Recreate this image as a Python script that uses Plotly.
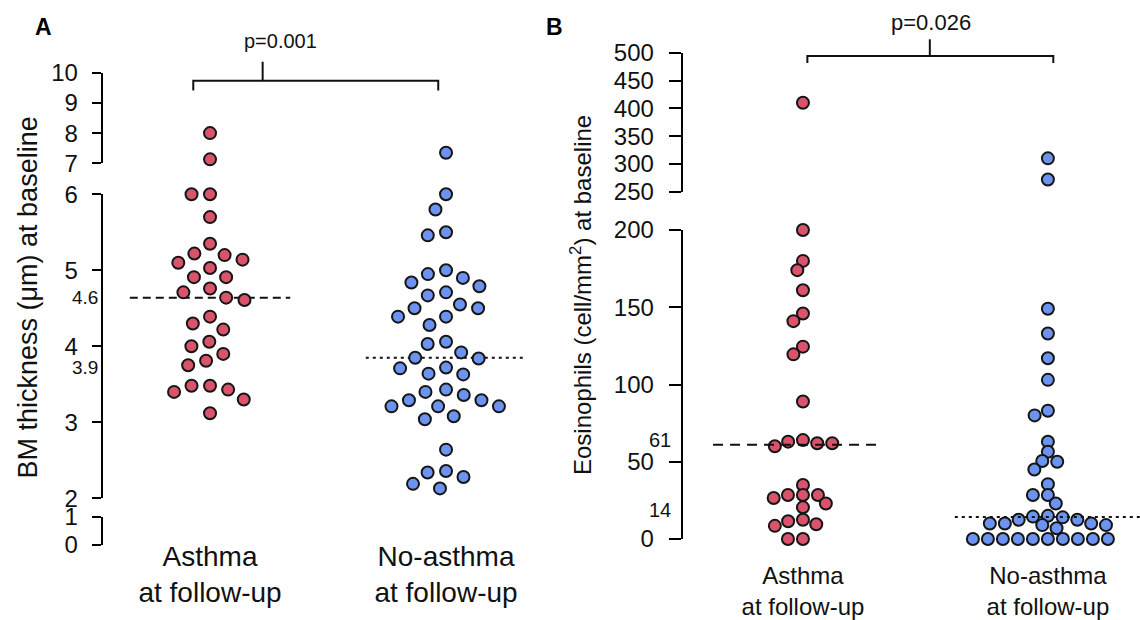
import numpy as np
import plotly.graph_objects as go

W, H = 1140, 620

# ---------------- data ----------------
group_labels = ["Asthma<br>at follow-up", "No-asthma<br>at follow-up"]

bm_asthma = [8.0, 7.13, 6.0, 6.0, 5.7, 5.35, 5.2, 5.22, 5.14, 5.1, 5.03, 4.91, 4.91,
             4.76, 4.71, 4.61, 4.64, 4.39, 4.3, 4.22, 4.06, 4.0, 3.9, 3.81, 3.75,
             3.48, 3.43, 3.4, 3.48, 3.3, 3.12]
bm_no_asthma = [7.35, 6.0, 5.8, 5.46, 5.5, 5.0, 4.9, 4.95, 4.79, 4.84, 4.71, 4.67,
                4.55, 4.5, 4.5, 4.39, 4.39, 4.28, 4.06, 4.03, 3.92, 3.85, 3.84,
                3.71, 3.63, 3.64, 3.72, 3.43, 3.29, 3.4, 3.29, 3.36, 3.21, 3.21,
                3.21, 3.08, 3.04, 2.64, 2.28, 2.36, 2.19, 2.34, 2.13]
eos_asthma = [410, 200, 180, 174, 161, 146, 141, 124.5, 119.5, 89, 64, 63, 62, 62,
              60, 35, 28.5, 28.5, 28.5, 26.5, 23, 20.5, 9.5, 8.5, 11.5, 12.5, 0, 0]
eos_no_asthma = [310, 272, 149, 133, 117, 103, 83, 80, 63, 56.5, 50, 50.5, 45, 35.5,
                 28.5, 28.5, 23, 10, 12.5, 14, 15, 14.5, 12.5, 10, 10, 9, 7, 9,
                 0, 0, 0, 0, 0, 0, 0, 0, 0, 0]

median_labels_bm = ["4.6", "3.9"]
median_labels_eos = ["61", "14"]
p_values = ["p=0.001", "p=0.026"]
panel_letters = ["A", "B"]
title_bm = "BM thickness (\u03bcm) at baseline"
title_eos = "Eosinophils (cell/mm<sup>2</sup>) at baseline"

bm_ticks = {"y": [7, 8, 9, 10], "y2": [2, 3, 4, 5, 6], "y3": [0, 1]}
eos_ticks = {"y4": [250, 300, 350, 400, 450, 500], "y5": [0, 50, 100, 150, 200]}

# ---------------- geometry (pixels) ----------------
FONT = "Liberation Sans, Arial, Helvetica, sans-serif"
RED = "#D9546B"
BLUE = "#6C93F0"
EDGE = "#151515"

A_axis_px = 101.7
A_x_px = (101.7, 535.0)
A_x_range = (-0.459, 1.377)
A_segs = {"y": ((7, 10), 163.3, 72.7),
          "y2": ((2, 6), 498.3, 194.3),
          "y3": ((0, 1), 545.0, 516.7)}

B_axis_px = 681.7
B_x_px = (681.7, 1140.0)
B_x_range = (-0.495, 1.376)
B_segs = {"y4": ((250, 500), 191.7, 52.7),
          "y5": ((0, 200), 539.0, 230.0)}


def py(v):
    return 1 - v / H


def pick_seg(v, segs):
    best, bd = None, 1e9
    for k, ((lo, hi), _, _) in segs.items():
        d = 0 if lo <= v <= hi else min(abs(v - lo), abs(v - hi))
        if d < bd:
            best, bd = k, d
    return best


def to_px(v, seg):
    (lo, hi), pb, pt = seg
    return pb + (v - lo) / (hi - lo) * (pt - pb)


def swarm(pys, d, ky=1.0):
    """Beeswarm: vertical distances are weighted by ky (ky>1 lets close rows overlap)."""
    order = np.argsort(pys, kind="stable")
    placed = []
    xs = np.zeros(len(pys))
    for i in order:
        y = pys[i]
        cands = [0.0]
        for (qx, qy) in placed:
            dy = abs(qy - y) * ky
            if dy < d:
                dx = np.sqrt(d * d - dy * dy)
                cands += [qx - dx, qx + dx]
        cands.sort(key=lambda c: (abs(c), c))
        for c in cands:
            if all((c - qx) ** 2 + ((y - qy) * ky) ** 2 >= d * d - 1e-6
                   for qx, qy in placed):
                xs[i] = c
                break
        placed.append((xs[i], y))
    return xs


fig = go.Figure()


def add_group(values, g, color, segs, xaxis, x_px, x_range, d, ky):
    vals = np.asarray(values, dtype=float)
    seg_keys = [pick_seg(v, segs) for v in vals]
    pys = np.array([to_px(v, segs[k]) for v, k in zip(vals, seg_keys)])
    offs = swarm(pys, d, ky)
    ppu = (x_px[1] - x_px[0]) / (x_range[1] - x_range[0])
    xs = g + offs / ppu
    for k in segs:
        m = np.array([s == k for s in seg_keys])
        fig.add_trace(go.Scatter(
            x=xs[m], y=vals[m], xaxis=xaxis, yaxis=k, mode="markers",
            marker=dict(size=12, color=color, line=dict(color=EDGE, width=2)),
            cliponaxis=False, showlegend=False, hoverinfo="y"))


add_group(bm_asthma, 0, RED, A_segs, "x", A_x_px, A_x_range, 18.5, 1.0)
add_group(bm_no_asthma, 1, BLUE, A_segs, "x", A_x_px, A_x_range, 18.5, 1.0)
add_group(eos_asthma, 0, RED, B_segs, "x2", B_x_px, B_x_range, 15.0, 1.5)
add_group(eos_no_asthma, 1, BLUE, B_segs, "x2", B_x_px, B_x_range, 15.0, 1.5)

# ---------------- axes ----------------
layout_axes = {}
for k, ((lo, hi), pb, pt) in A_segs.items():
    name = "yaxis" if k == "y" else "yaxis" + k[1:]
    layout_axes[name] = dict(
        domain=[py(pb), py(pt)], range=[lo, hi], anchor="free",
        position=A_axis_px / W, showline=True, linecolor="black", linewidth=2,
        ticks="outside", ticklen=9, tickwidth=2, tickcolor="black",
        tickvals=bm_ticks[k], ticklabelstandoff=9,
        tickfont=dict(size=24, color="#111"), showgrid=False, zeroline=False)
for k, ((lo, hi), pb, pt) in B_segs.items():
    name = "yaxis" + k[1:]
    layout_axes[name] = dict(
        domain=[py(pb), py(pt)], range=[lo, hi], anchor="free",
        position=B_axis_px / W, showline=True, linecolor="black", linewidth=2,
        ticks="outside", ticklen=12, tickwidth=2, tickcolor="black",
        tickvals=eos_ticks[k], ticklabelstandoff=10,
        tickfont=dict(size=24, color="#111"), showgrid=False, zeroline=False)

layout_axes["xaxis"] = dict(
    domain=[A_x_px[0] / W, A_x_px[1] / W], range=list(A_x_range), anchor="free",
    position=py(537), showline=False, ticks="", tickvals=[0, 1],
    ticktext=group_labels, tickfont=dict(size=28, color="#111"),
    showgrid=False, zeroline=False)
layout_axes["xaxis2"] = dict(
    domain=[B_x_px[0] / W, B_x_px[1] / W], range=list(B_x_range), anchor="free",
    position=py(559), showline=False, ticks="", tickvals=[0, 1],
    ticktext=group_labels, tickfont=dict(size=24, color="#111"),
    showgrid=False, zeroline=False)

# ---------------- medians ----------------
shapes = []
annotations = []
med_a = [float(np.median(bm_asthma)), float(np.median(bm_no_asthma))]
med_b = [float(np.median(eos_asthma)), float(np.median(eos_no_asthma))]

shapes.append(dict(type="line", xref="x", yref="y2", x0=-0.34, x1=0.34,
                   y0=med_a[0], y1=med_a[0], layer="below",
                   line=dict(color="#111", width=2, dash="8px,5px")))
shapes.append(dict(type="line", xref="x", yref="y2", x0=0.66, x1=1.335,
                   y0=med_a[1], y1=med_a[1], layer="below",
                   line=dict(color="#111", width=2, dash="3px,4px")))
shapes.append(dict(type="line", xref="x2", yref="y5", x0=-0.367, x1=0.321,
                   y0=med_b[0], y1=med_b[0], layer="above",
                   line=dict(color="#111", width=2, dash="10px,7px")))
shapes.append(dict(type="line", xref="x2", yref="y5", x0=0.62, x1=1.376,
                   y0=med_b[1], y1=med_b[1], layer="above",
                   line=dict(color="#111", width=2, dash="3px,4px")))

for lab, m, ys in zip(median_labels_bm, med_a, [0, -10]):
    annotations.append(dict(text=lab, xref="paper", yref="y2", x=99.5 / W, y=m,
                            xanchor="right", yanchor="middle", yshift=ys,
                            showarrow=False, font=dict(size=19, color="#111")))
for lab, m, ys in zip(median_labels_eos, med_b, [5, 7]):
    annotations.append(dict(text=lab, xref="paper", yref="y5", x=673 / W, y=m,
                            xanchor="right", yanchor="middle", yshift=ys,
                            showarrow=False, font=dict(size=20, color="#111")))

# ---------------- significance brackets ----------------
def bracket(xref, xl, xr, xm, y_bar, y_end, y_top):
    shapes.append(dict(type="path", xref=xref, yref="paper",
                       path=f"M {xl} {py(y_end)} L {xl} {py(y_bar)} L {xr} {py(y_bar)} L {xr} {py(y_end)}",
                       line=dict(color="#111", width=2)))
    shapes.append(dict(type="line", xref=xref, yref="paper", x0=xm, x1=xm,
                       y0=py(y_bar), y1=py(y_top), line=dict(color="#111", width=2)))


bracket("x", -0.071, 0.967, 0.223, 80.7, 90.5, 61.7)
bracket("x2", 0.018, 1.022, 0.518, 56.0, 63.0, 39.3)

annotations.append(dict(text=p_values[0], xref="paper", yref="paper", x=280 / W,
                        y=py(41), xanchor="center", yanchor="middle",
                        showarrow=False, font=dict(size=20, color="#111")))
annotations.append(dict(text=p_values[1], xref="paper", yref="paper", x=931 / W,
                        y=py(22.5), xanchor="center", yanchor="middle",
                        showarrow=False, font=dict(size=22, color="#111")))

# ---------------- titles & panel letters ----------------
annotations.append(dict(text=title_bm, xref="paper", yref="paper", x=27 / W,
                        y=py(297.5), textangle=-90, xanchor="center",
                        yanchor="middle", showarrow=False,
                        font=dict(size=27, color="#111")))
annotations.append(dict(text=title_eos, xref="paper", yref="paper", x=581 / W,
                        y=py(295), textangle=-90, xanchor="center",
                        yanchor="middle", showarrow=False,
                        font=dict(size=24, color="#111")))
for letter, xp in zip(panel_letters, [43.5, 554]):
    annotations.append(dict(text=f"<b>{letter}</b>", xref="paper", yref="paper",
                            x=xp / W, y=py(27.5), xanchor="center",
                            yanchor="middle", showarrow=False,
                            font=dict(size=23, color="#000")))

fig.update_layout(
    width=W, height=H, margin=dict(l=0, r=0, t=0, b=0, autoexpand=False),
    paper_bgcolor="white", plot_bgcolor="white",
    font=dict(family=FONT, color="#111"),
    showlegend=False, shapes=shapes, annotations=annotations,
    **layout_axes)

fig.write_html("out.html", config={"displayModeBar": False})
